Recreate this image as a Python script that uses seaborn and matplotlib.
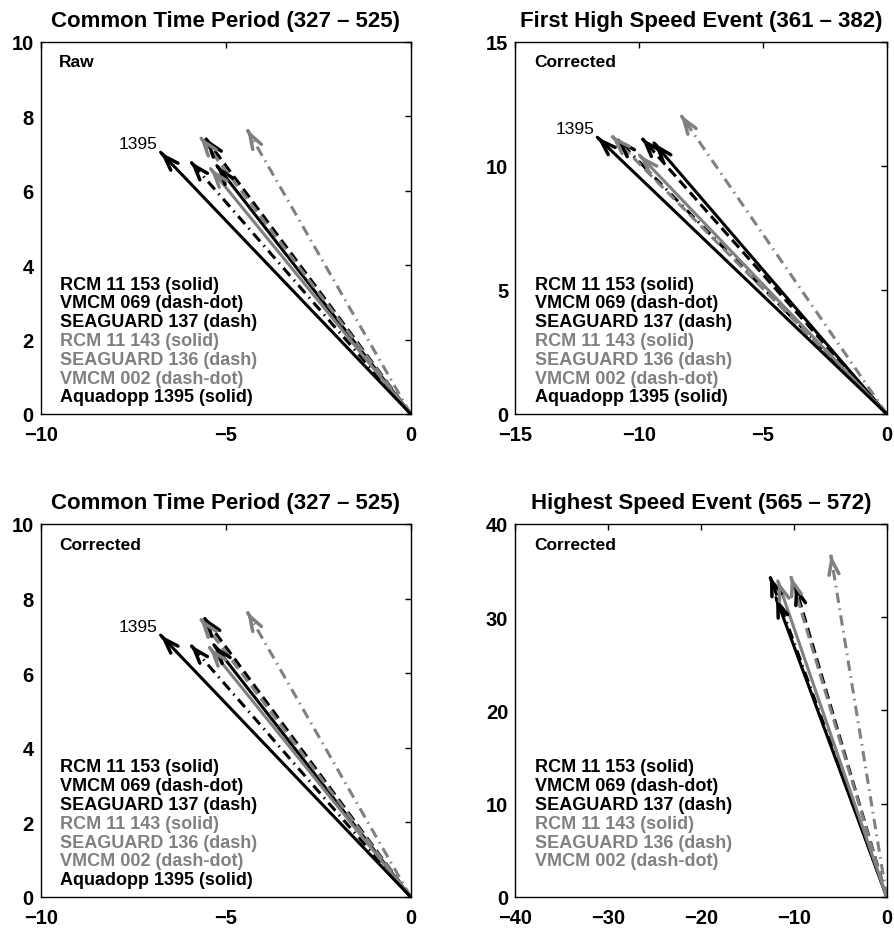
import numpy as np
import pandas as pd
import matplotlib
matplotlib.use("Agg")
import matplotlib.pyplot as plt
import seaborn as sns

sns.set_style("white")
plt.rcParams["font.family"] = ["Liberation Sans", "DejaVu Sans"]
plt.rcParams["text.color"] = "black"
plt.rcParams["axes.labelcolor"] = "black"
plt.rcParams["xtick.color"] = "black"
plt.rcParams["ytick.color"] = "black"
plt.rcParams["axes.edgecolor"] = "black"

# ---------------- data ----------------
instruments = ["RCM 11 153", "VMCM 069", "SEAGUARD 137", "RCM 11 143",
               "SEAGUARD 136", "VMCM 002", "Aquadopp 1395"]
line_kind = ["solid", "dash-dot", "dash", "solid", "dash", "dash-dot", "solid"]
shade = ["black", "black", "black", "gray", "gray", "gray", "black"]

# Panel 1: Common time period, raw
u_raw = [-5.24, -5.95, -5.55, -5.41, -5.69, -4.42, -6.76]
v_raw = [6.67, 6.78, 7.41, 6.59, 7.44, 7.64, 7.03]
# Panel 2: First high speed event, corrected
u_first = [-9.40, -10.90, -9.89, -9.99, -11.11, -8.32, -11.69]
v_first = [10.92, 11.08, 11.11, 10.43, 11.21, 12.05, 11.15]
# Panel 3: Common time period, corrected
u_corr = [-5.32, -5.95, -5.59, -5.44, -5.69, -4.42, -6.76]
v_corr = [6.76, 6.76, 7.50, 6.69, 7.47, 7.65, 7.02]
# Panel 4: Highest speed event, corrected (no Aquadopp)
u_high = [-11.93, -12.59, -9.88, -11.74, -10.34, -6.03]
v_high = [32.10, 34.40, 33.46, 33.90, 34.40, 36.70]

titles = ["Common Time Period (327 \u2013 525)",
          "First High Speed Event (361 \u2013 382)",
          "Common Time Period (327 \u2013 525)",
          "Highest Speed Event (565 \u2013 572)"]
tags = ["Raw", "Corrected", "Corrected", "Corrected"]
xlims = [(-10, 0), (-15, 0), (-10, 0), (-40, 0)]
ylims = [(0, 10), (0, 15), (0, 10), (0, 40)]
xticks = [[-10, -5, 0], [-15, -10, -5, 0], [-10, -5, 0], [-40, -30, -20, -10, 0]]
yticks = [[0, 2, 4, 6, 8, 10], [0, 5, 10, 15], [0, 2, 4, 6, 8, 10], [0, 10, 20, 30, 40]]

# ---------------- styles ----------------
color_map = {"black": "black", "gray": "#808080"}
dash_map = {"solid": "", "dash": (3.4, 1.8), "dash-dot": (3.4, 1.8, 0.5, 1.8)}
LW = 2.2

fig = plt.figure(figsize=(8.94, 9.29), dpi=100)
positions = [[0.0455, 0.5533, 0.4139, 0.4008],
             [0.5764, 0.5533, 0.4155, 0.4008],
             [0.0455, 0.0334, 0.4139, 0.4015],
             [0.5764, 0.0334, 0.4155, 0.4015]]
panels = [(u_raw, v_raw), (u_first, v_first), (u_corr, v_corr), (u_high, v_high)]

for k, (us, vs) in enumerate(panels):
    ax = fig.add_axes(positions[k])
    n = len(us)
    names = instruments[:n]
    rows = []
    for name, u, v in zip(names, us, vs):
        rows.append({"instrument": name, "x": 0.0, "y": 0.0})
        rows.append({"instrument": name, "x": u, "y": v})
    df = pd.DataFrame(rows)
    pal = {nm: color_map[shade[i]] for i, nm in enumerate(names)}
    dsh = {nm: dash_map[line_kind[i]] for i, nm in enumerate(names)}
    sns.lineplot(data=df, x="x", y="y", hue="instrument", style="instrument",
                 palette=pal, dashes=dsh, estimator=None, sort=False,
                 legend=False, linewidth=LW, ax=ax)
    # arrow heads
    for i, (u, v) in enumerate(zip(us, vs)):
        c = color_map[shade[i]]
        ax.annotate("", xy=(u, v), xytext=(u * 0.995, v * 0.995),
                    arrowprops=dict(arrowstyle="->,head_length=1.05,head_width=0.36",
                                    lw=LW + 0.3, color=c, shrinkA=0, shrinkB=0,
                                    mutation_scale=10))
    # 1395 label
    if n == 7:
        ax.annotate("1395", xy=(us[6], vs[6]), xytext=(-2, 6.5),
                    textcoords="offset points", ha="right", va="center",
                    fontsize=12.5, color="black")
    ax.set_xlim(*xlims[k])
    ax.set_ylim(*ylims[k])
    ax.set_xticks(xticks[k])
    ax.set_yticks(yticks[k])
    ax.set_xlabel("")
    ax.set_ylabel("")
    ax.tick_params(direction="in", length=4, width=1, top=True, right=True,
                   labelsize=14.5, pad=5, colors="black")
    ax.tick_params(axis="x", pad=8)
    for lab in ax.get_xticklabels() + ax.get_yticklabels():
        lab.set_fontweight("bold")
    for sp in ax.spines.values():
        sp.set_linewidth(1.0)
        sp.set_color("black")
    ax.set_title(titles[k], fontsize=16, fontweight="bold", pad=11.5, color="black")
    ax.text(0.05, 0.946, tags[k], transform=ax.transAxes, fontsize=12.5,
            fontweight="bold", ha="left", va="center", color="black")
    # instrument list
    y0 = 0.349
    step = 0.0505
    for i, nm in enumerate(names):
        ax.text(0.052, y0 - i * step, f"{nm} ({line_kind[i]})",
                transform=ax.transAxes, fontsize=13, fontweight="bold",
                color=color_map[shade[i]], ha="left", va="center")

fig.savefig("out.png", dpi=100)
